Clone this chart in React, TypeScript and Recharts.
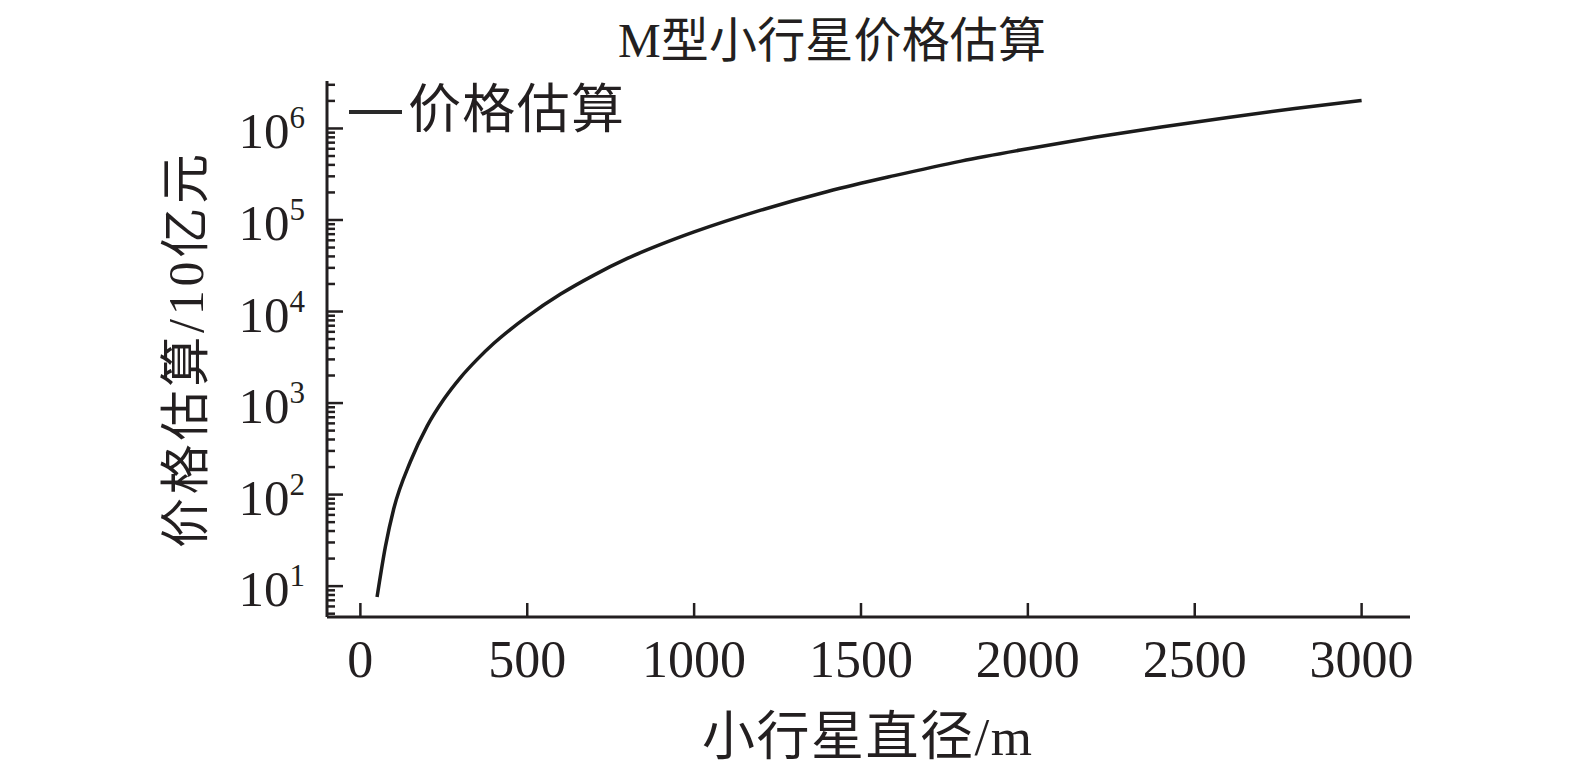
import React from "react";
import { LineChart, Line, XAxis, YAxis } from "recharts";

const diameters = [50, 75, 100, 150, 200, 250, 300, 350, 400, 450, 500, 600, 700, 800, 900, 1000, 1200, 1400, 1600, 1800, 2000, 2200, 2400, 2600, 2800, 3000];
const prices = [7.6, 27, 70, 230, 560, 1100, 1900, 3000, 4500, 6400, 8800, 15500, 25000, 38000, 54000, 74000, 128000, 205000, 305000, 440000, 600000, 800000, 1040000, 1320000, 1650000, 2020000];

const xTicks = [0, 500, 1000, 1500, 2000, 2500, 3000];
const yMajorTicks = [10, 100, 1000, 10000, 100000, 1000000];
const yMajorExponents = ["1", "2", "3", "4", "5", "6"];
const yMinorMultipliers = [2, 3, 4, 5, 6, 7, 8, 9];
const yMinorTicks: number[] = [5, 6, 7, 8, 9];
[1, 2, 3, 4, 5].forEach((e) => {
  yMinorMultipliers.forEach((m) => yMinorTicks.push(m * Math.pow(10, e)));
});
yMinorTicks.push(2000000, 3000000);
const yTicks = [...yMajorTicks, ...yMinorTicks].sort((a, b) => a - b);

const title = "M型小行星价格估算";
const xLabel = "小行星直径/m";
const yLabel = "价格估算/10亿元";
const seriesName = "价格估算";

const data = diameters.map((d, i) => ({ d, price: prices[i] }));

const FONT = "'Liberation Serif', 'Times New Roman', 'Noto Sans CJK SC', serif";
const INK = "#231f20";

const YTick = (props: any) => {
  const { x, y, payload } = props;
  const idx = yMajorTicks.indexOf(payload.value);
  const major = idx >= 0;
  return (
    <g>
      <line x1={x} y1={y} x2={x + (major ? 16 : 8)} y2={y} stroke={INK} strokeWidth={2.5} />
      {major && (
        <text x={x - 22} y={y + 20} textAnchor="end" fontFamily={FONT} fontSize={51} fill={INK}>
          10
          <tspan dy={-20} fontSize={31}>{yMajorExponents[idx]}</tspan>
        </text>
      )}
    </g>
  );
};

const XTick = (props: any) => {
  const { x, y, payload } = props;
  return (
    <g>
      <line x1={x} y1={y} x2={x} y2={y - 14} stroke={INK} strokeWidth={2.5} />
      <text x={x} y={y + 60} textAnchor="middle" fontFamily={FONT} fontSize={52} fill={INK}>
        {payload.value}
      </text>
    </g>
  );
};

export default function App() {
  return (
    <div style={{ position: "absolute", left: 0, top: 0, width: 1575, height: 773, background: "#fff" }}>
      <LineChart width={1575} height={773} data={data} margin={{ top: 81, right: 165, bottom: 0, left: 0 }}>
        <XAxis
          dataKey="d"
          type="number"
          domain={[-100, 3145]}
          ticks={xTicks}
          allowDataOverflow
          height={156}
          tickSize={0}
          tickMargin={0}
          tickLine={false}
          axisLine={{ stroke: INK, strokeWidth: 3 }}
          tick={<XTick />}
          interval={0}
        />
        <YAxis
          dataKey="price"
          scale="log"
          type="number"
          domain={[4.6, 3300000]}
          ticks={yTicks}
          allowDataOverflow
          width={327}
          tickSize={0}
          tickMargin={0}
          tickLine={false}
          axisLine={{ stroke: INK, strokeWidth: 3 }}
          tick={<YTick />}
          interval={0}
        />
        <Line
          type="monotone"
          dataKey="price"
          name={seriesName}
          stroke="#1b1b1b"
          strokeWidth={3.5}
          dot={false}
          isAnimationActive={false}
        />
      </LineChart>
      <svg width={1575} height={773} style={{ position: "absolute", left: 0, top: 0, pointerEvents: "none" }}>
        <text x={618} y={57} textLength={428} lengthAdjust="spacing" fontFamily={FONT} fontSize={48} fill={INK}>
          {title}
        </text>
        <line x1={349} y1={112} x2={402} y2={112} stroke="#2a2a2a" strokeWidth={4} />
        <text x={408} y={128} textLength={216} lengthAdjust="spacing" fontFamily={FONT} fontSize={53} fill={INK}>
          {seriesName}
        </text>
        <text x={702} y={755} textLength={330} lengthAdjust="spacing" fontFamily={FONT} fontSize={53} fill={INK}>
          {xLabel}
        </text>
        <text transform="translate(203,548) rotate(-90)" textLength={394} lengthAdjust="spacing" fontFamily={FONT} fontSize={50} fill={INK}>
          {yLabel}
        </text>
      </svg>
    </div>
  );
}
